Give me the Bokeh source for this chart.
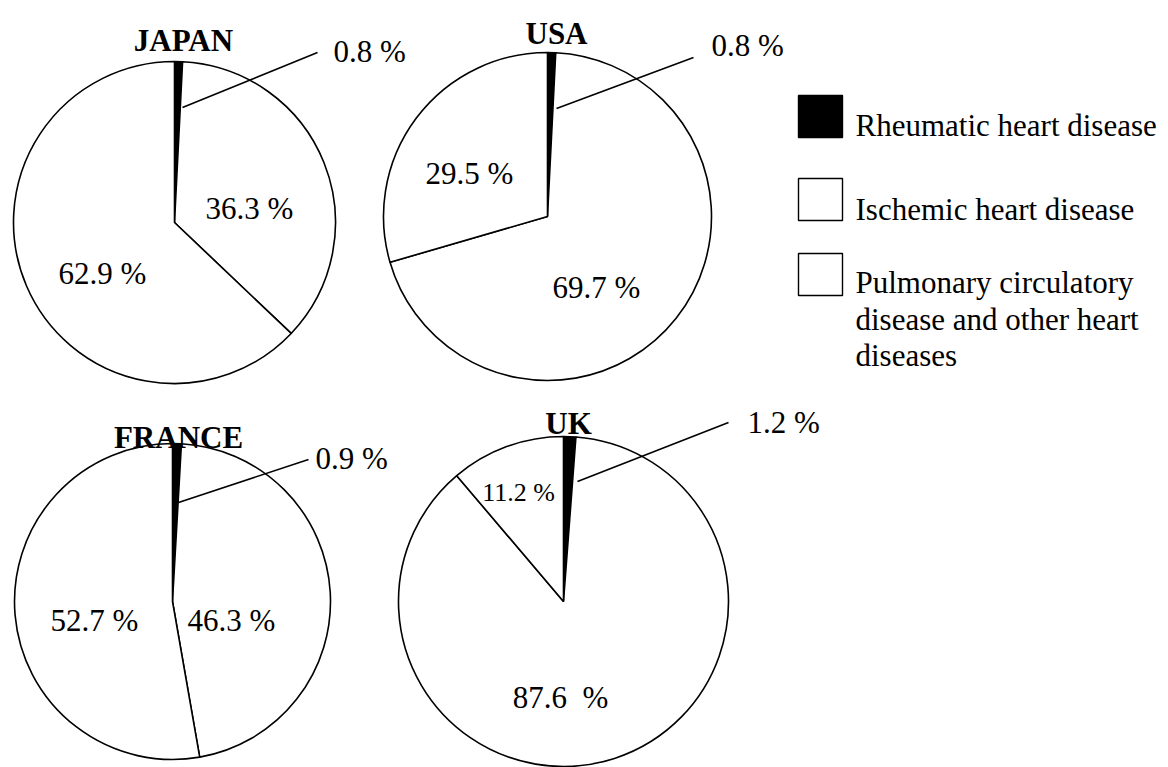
import math
from bokeh.plotting import figure
from bokeh.models import Range1d, ColumnDataSource
from bokeh.core.properties import value
from bokeh.embed import file_html
from bokeh.resources import INLINE

# ---------------- data ----------------
countries = ["JAPAN", "USA", "FRANCE", "UK"]
rheumatic = [0.8, 0.8, 0.9, 1.2]
ischemic = [36.3, 69.7, 46.3, 87.6]
other = [62.9, 29.5, 52.7, 11.2]
legend_names = ["Rheumatic heart disease", "Ischemic heart disease",
                "Pulmonary circulatory disease and other heart diseases"]
legend_lines = [["Rheumatic heart disease"], ["Ischemic heart disease"],
                ["Pulmonary circulatory", "disease and other heart", "diseases"]]
legend_colors = ["#000000", "#ffffff", "#ffffff"]

# ---------------- layout (reference pixel coordinates) ----------------
cx = [174, 547, 172, 563]
cy = [222, 216, 601, 601]
rad = [161, 164, 158, 165]
title_xy = [(183, 40), (556, 33), (178, 437), (568, 423)]
lead_start = [(182, 107), (556, 108), (178, 502), (577, 481)]
lead_end = [(317, 52), (693, 57), (308, 459), (728, 422)]
lead_label = [(333, 51), (711, 45), (315, 458), (747, 422)]
isch_label_xy = [(249, 208), (596, 287), (231, 620), (560, 697)]
other_label_xy = [(102, 273), (469, 173), (94, 620), (518, 492)]
other_label_size = ["31px", "31px", "31px", "26px"]
isch_sep = [" ", " ", " ", "\u00a0 "]

FONT = value("Liberation Serif")

p = figure(width=1168, height=767, output_backend="svg", toolbar_location=None,
           x_range=Range1d(0, 1168), y_range=Range1d(767, 0),
           min_border=0, background_fill_color="white", border_fill_color="white")
p.axis.visible = False
p.grid.visible = False
p.outline_line_color = None

# wedges
wx, wy, wr, ws, we, wc = [], [], [], [], [], []
for i in range(len(countries)):
    parts = [rheumatic[i], ischemic[i], other[i]]
    total = sum(parts)
    cum = 0.0
    for j, v in enumerate(parts):
        c0 = cum / total
        cum += v
        c1 = cum / total
        wx.append(cx[i]); wy.append(cy[i]); wr.append(rad[i])
        ws.append(math.pi / 2 - 2 * math.pi * c1)
        we.append(math.pi / 2 - 2 * math.pi * c0)
        wc.append(legend_colors[j])
src = ColumnDataSource(dict(x=wx, y=wy, r=wr, s=ws, e=we, c=wc))
p.wedge(x="x", y="y", radius="r", start_angle="s", end_angle="e", direction="anticlock",
        fill_color="c", line_color="black", line_width=1.6, source=src)

# leader lines
p.segment(x0=[a for a, b in lead_start], y0=[b for a, b in lead_start],
          x1=[a for a, b in lead_end], y1=[b for a, b in lead_end],
          line_color="black", line_width=1.6)

# titles
p.text(x=[a for a, b in title_xy], y=[b for a, b in title_xy], text=countries,
       text_font=FONT, text_font_size=value("31px"), text_font_style="bold",
       text_align="center", text_baseline="alphabetic", text_color="black")

# rheumatic labels
p.text(x=[a for a, b in lead_label], y=[b for a, b in lead_label],
       text=[f"{v} %" for v in rheumatic],
       text_font=FONT, text_font_size=value("31px"),
       text_align="left", text_baseline="alphabetic", text_color="black")

# ischemic labels
p.text(x=[a for a, b in isch_label_xy], y=[b for a, b in isch_label_xy],
       text=[f"{v}{s}%" for v, s in zip(ischemic, isch_sep)],
       text_font=FONT, text_font_size=value("31px"),
       text_align="center", text_baseline="alphabetic", text_color="black")

# other labels
for i in range(len(countries)):
    p.text(x=[other_label_xy[i][0]], y=[other_label_xy[i][1]], text=[f"{other[i]} %"],
           text_font=FONT, text_font_size=value(other_label_size[i]),
           text_align="center", text_baseline="alphabetic", text_color="black")

# legend
sq_top = [95, 178, 253]
sq_h = 42
p.quad(left=[798] * 3, right=[842] * 3, top=sq_top, bottom=[t + sq_h for t in sq_top],
       fill_color=legend_colors, line_color="black", line_width=1.4)
text_first_baseline = [125, 209, 282]
lx, ly, lt = [], [], []
for k, lines in enumerate(legend_lines):
    for m, ln in enumerate(lines):
        lx.append(855)
        ly.append(text_first_baseline[k] + m * 36.5)
        lt.append(ln)
p.text(x=lx, y=ly, text=lt, text_font=FONT, text_font_size=value("31px"),
       text_align="left", text_baseline="alphabetic", text_color="black")

open("out.html", "w").write(file_html(p, INLINE))
